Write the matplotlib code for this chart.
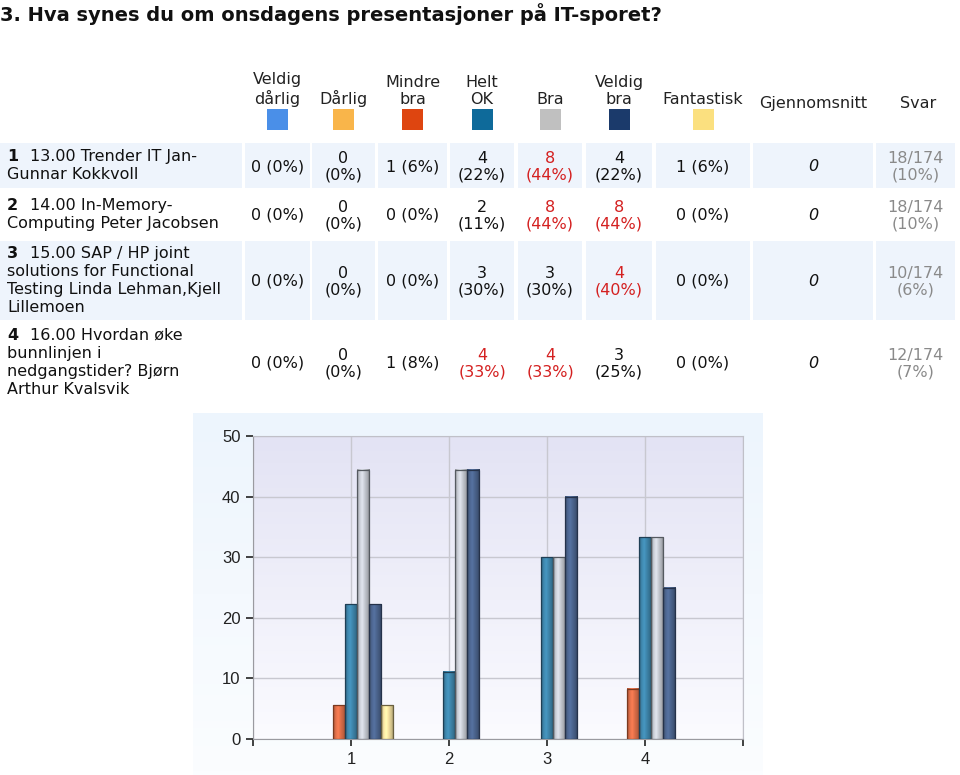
import matplotlib
matplotlib.use("Agg")
import matplotlib.pyplot as plt
import numpy as np
from matplotlib.colors import to_rgb

## Data
title = "3. Hva synes du om onsdagens presentasjoner på IT-sporet?"
categories = ["Veldig\ndårlig", "Dårlig", "Mindre\nbra", "Helt\nOK", "Bra", "Veldig\nbra", "Fantastisk"]
swatch_colors = ["#4a8fe8", "#f9b54a", "#de4510", "#0e6a9a", "#c0c0c0", "#1b3a6b", "#fbe07f"]
bar_colors = ["#6aa6e8", "#f7c26b", "#e0704a", "#3f87ad", "#c9cdd5", "#4d6690", "#f6e3a2"]
bar_edges = ["#2a4a70", "#7a5a20", "#7a3a20", "#1f3f55", "#555a60", "#25324a", "#6a6040"]

row_nums = ["1", "2", "3", "4"]
row_labels = [
    ["13.00 Trender IT Jan-", "Gunnar Kokkvoll"],
    ["14.00 In-Memory-", "Computing Peter Jacobsen"],
    ["15.00 SAP / HP joint", "solutions for Functional", "Testing Linda Lehman,Kjell", "Lillemoen"],
    ["16.00 Hvordan øke", "bunnlinjen i", "nedgangstider? Bjørn", "Arthur Kvalsvik"],
]
counts = [
    [0, 0, 1, 4, 8, 4, 1],
    [0, 0, 0, 2, 8, 8, 0],
    [0, 0, 0, 3, 3, 4, 0],
    [0, 0, 1, 4, 4, 3, 0],
]
pcts = [
    [0, 0, 6, 22, 44, 22, 6],
    [0, 0, 0, 11, 44, 44, 0],
    [0, 0, 0, 30, 30, 40, 0],
    [0, 0, 8, 33, 33, 25, 0],
]
averages = ["0", "0", "0", "0"]
answers = ["18/174\n(10%)", "18/174\n(10%)", "10/174\n(6%)", "12/174\n(7%)"]

# chart values (percent) per answer category, groups 1..4
chart_vals = [
    [0, 0, 0, 0],
    [0, 0, 0, 0],
    [5.6, 0, 0, 8.3],
    [22.2, 11.1, 30.0, 33.3],
    [44.4, 44.4, 30.0, 33.3],
    [22.2, 44.4, 40.0, 25.0],
    [5.6, 0, 0, 0],
]
groups = [1, 2, 3, 4]

## Layout (pixels)
W, H = 960, 775
col_edges = [(0, 242), (245, 310), (312, 375), (378, 447), (450, 514), (518, 582),
             (586, 652), (656, 750), (753, 873), (876, 955)]
row_edges = [(143, 188), (191, 238), (241, 320), (323, 402)]
wrap = [False, True, False, True, True, True, False]
cell_bg = "#eef4fc"
fs = 11.5

fig = plt.figure(figsize=(W / 100, H / 100), dpi=100)
bg = fig.add_axes([0, 0, 1, 1])
bg.set_xlim(0, W)
bg.set_ylim(H, 0)
bg.axis("off")

bg.text(0, 14, title, fontsize=14, fontweight="bold", va="center", ha="left", color="#111")

# header
for i, cat in enumerate(categories):
    x0, x1 = col_edges[i + 1]
    cx = (x0 + x1) / 2
    bg.text(cx, 104, cat, fontsize=11.5, ha="center", va="baseline", color="#222", linespacing=1.2)
    bg.add_patch(plt.Rectangle((cx - 10.5, 109), 21, 21, color=swatch_colors[i], lw=0))
for j, name in enumerate(["Gjennomsnitt", "Svar"]):
    x0, x1 = col_edges[8 + j]
    bg.text((x0 + x1) / 2 + (0 if j == 0 else 3), 108, name, fontsize=11.5, ha="center",
            va="baseline", color="#222")

# rows
for r in range(4):
    y0, y1 = row_edges[r]
    cy = (y0 + y1) / 2
    if r % 2 == 0:
        for (x0, x1) in col_edges:
            bg.add_patch(plt.Rectangle((x0, y0), x1 - x0, y1 - y0, color=cell_bg, lw=0))
    lines = row_labels[r]
    ty = cy - (len(lines) - 1) * 18 / 2
    bg.text(7, ty, row_nums[r], fontsize=fs, fontweight="bold", va="center", color="#111")
    for k, line in enumerate(lines):
        bg.text(30 if k == 0 else 7, ty + k * 18, line, fontsize=fs, va="center", ha="left",
                color="#111")
    top = max(counts[r])
    for i in range(7):
        x0, x1 = col_edges[i + 1]
        sep = "\n" if wrap[i] else " "
        s = f"{counts[r][i]}{sep}({pcts[r][i]}%)"
        c = "#d42020" if counts[r][i] == top and i < 6 else "#111"
        bg.text((x0 + x1) / 2, cy + 1, s, fontsize=fs, ha="center", va="center", color=c,
                linespacing=1.1)
    x0, x1 = col_edges[8]
    bg.text((x0 + x1) / 2, cy + 1, averages[r], fontsize=fs, style="italic", ha="center",
            va="center", color="#111")
    x0, x1 = col_edges[9]
    bg.text((x0 + x1) / 2, cy + 1, answers[r], fontsize=fs, ha="center", va="center",
            color="#8a8a8a", linespacing=1.1)

# chart panel background
grad = np.linspace(0, 1, 100)[:, None, None]
top_c, bot_c = np.array(to_rgb("#edf5fd")), np.array(to_rgb("#fbfdff"))
bg.imshow(top_c * (1 - grad) + bot_c * grad, extent=(193, 763, 775, 413), aspect="auto", zorder=0)

## Chart
ax = fig.add_axes([253 / W, 1 - 739 / H, 490 / W, 303 / H])
ax.set_xlim(0, 5)
ax.set_ylim(0, 50)
ax.set_autoscale_on(False)
top_c, bot_c = np.array(to_rgb("#e3e3f4")), np.array(to_rgb("#fbfbff"))
ax.imshow(top_c * (1 - grad) + bot_c * grad, extent=(0, 5, 0, 50), aspect="auto", zorder=0)

ax.set_yticks([0, 10, 20, 30, 40, 50])
ax.set_xticks([0, 1, 2, 3, 4, 5])
ax.set_xticklabels(["", "1", "2", "3", "4", ""])
ax.grid(True, color="#c8c8d0", lw=1)
ax.set_axisbelow(True)
for side in ["top", "right"]:
    ax.spines[side].set_color("#c0c0c8")
for side in ["left", "bottom"]:
    ax.spines[side].set_color("#9a9aa0")
ax.tick_params(axis="both", direction="out", length=5, width=1.2, color="#222",
               labelsize=12, labelcolor="#222", pad=4)
for lab in ax.get_xticklabels() + ax.get_yticklabels():
    lab.set_fontfamily("Liberation Sans")

w = 0.123
shade = np.interp(np.linspace(0, 1, 40), [0, 0.2, 0.4, 0.65, 0.85, 1],
                  [0.75, 1.0, 1.12, 0.95, 0.82, 0.62])
x = np.array(groups, dtype=float)
for k in range(7):
    vals = np.array(chart_vals[k])
    keep = vals > 0
    if not keep.any():
        continue
    pos = x[keep] + (k - 3) * w
    bars = ax.bar(pos, vals[keep], w, color=bar_colors[k], lw=0, zorder=3)
    base = np.array(to_rgb(bar_colors[k]))
    img = np.clip(base[None, None, :] * shade[None, :, None], 0, 1)
    for p in bars:
        ax.imshow(img, extent=(p.get_x(), p.get_x() + p.get_width(), 0, p.get_height()),
                  aspect="auto", zorder=3.5)
    ax.bar(pos, vals[keep], w, fill=False, edgecolor=bar_edges[k], lw=0.9, zorder=4)

fig.savefig("out.png", dpi=100)
